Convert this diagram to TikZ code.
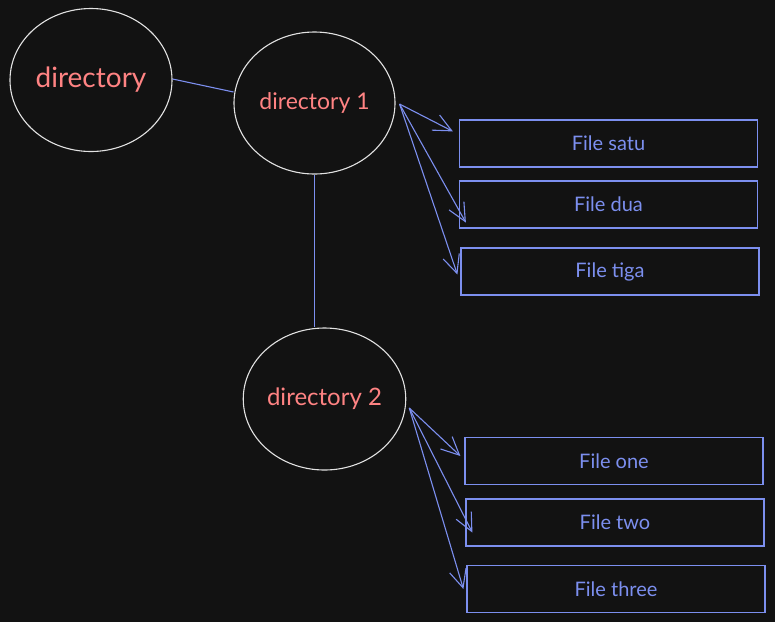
\documentclass[tikz,border=0pt]{standalone}
\usepackage{fontspec}
\setmainfont{Lato}
\usepackage{tikz}
\usetikzlibrary{arrows.meta,calc,positioning,shapes.geometric}

\definecolor{bgdark}{HTML}{121212}
\definecolor{linkblue}{HTML}{7C8FEF}
\definecolor{dirred}{HTML}{FF8383}
\definecolor{ringwhite}{HTML}{E2E2E2}

\tikzset{
  >={Straight Barb[length=18pt,width=17pt]},
  dirnode/.style={ellipse,draw=ringwhite,line width=1.1pt,text=dirred,inner sep=0pt},
  filenode/.style={rectangle,draw=linkblue,line width=1.2pt,text=linkblue,
                   minimum width=298pt,minimum height=47pt,inner sep=0pt,
                   font=\fontsize{20}{24}\selectfont},
  link/.style={draw=linkblue,line width=1.1pt},
}

\begin{document}
\begin{tikzpicture}[x=1pt,y=-1pt]
%
  \fill [bgdark] (0,0) rectangle (775,622) ;
  \useasboundingbox (0,0) rectangle (775,622) ;
%
  \node (dir)    [dirnode,minimum width=162pt,minimum height=143pt,
                  font=\fontsize{28}{32}\selectfont] at (91,80) {directory} ;
  \node (dirone) [dirnode,minimum width=161pt,minimum height=142pt,
                  font=\fontsize{23}{27}\selectfont] at (314.5,103) {directory 1} ;
  \node (dirtwo) [dirnode,minimum width=161pt,minimum height=142pt,
                  font=\fontsize{24}{28}\selectfont] at (324.5,399) {directory 2} ;
%
  \node (satu)  [filenode] at (608.5,143.5) {File satu} ;
  \node (dua)   [filenode] at (608.5,204.5) {File dua} ;
  \node (tiga)  [filenode] at (610,271.5)   {File tiga} ;
%
  \node (one)   [filenode] at (614,461)     {File one} ;
  \node (two)   [filenode] at (615,522.5)   {File two} ;
  \node (three) [filenode] at (616,589)     {File three} ;
%
  \draw [link] ($(dir.east)+(0,-1)$) -- ($(dirone.west)+(0,-11)$) ;
  \draw [link] (dirone.south) -- (dirone.south |- dirtwo.north) ;
%
  \coordinate (fromone) at ($(dirone.east)+(4,1)$) ;
  \coordinate (fromtwo) at ($(dirtwo.east)+(3,9)$) ;
%
  \draw [link,->] (fromone) -- ($(satu.north west)+(-6,12)$) ;
  \draw [link,->] (fromone) -- ($(dua.south west)+(7,-6)$) ;
  \draw [link,->] (fromone) -- ($(tiga.west)+(-3,3)$) ;
%
  \draw [link,->] (fromtwo) -- ($(one.west)+(-4,-5)$) ;
  \draw [link,->] (fromtwo) -- ($(two.south west)+(7,-14)$) ;
  \draw [link,->] (fromtwo) -- ($(three.west)+(-3,0)$) ;
%
\end{tikzpicture}
\end{document}
